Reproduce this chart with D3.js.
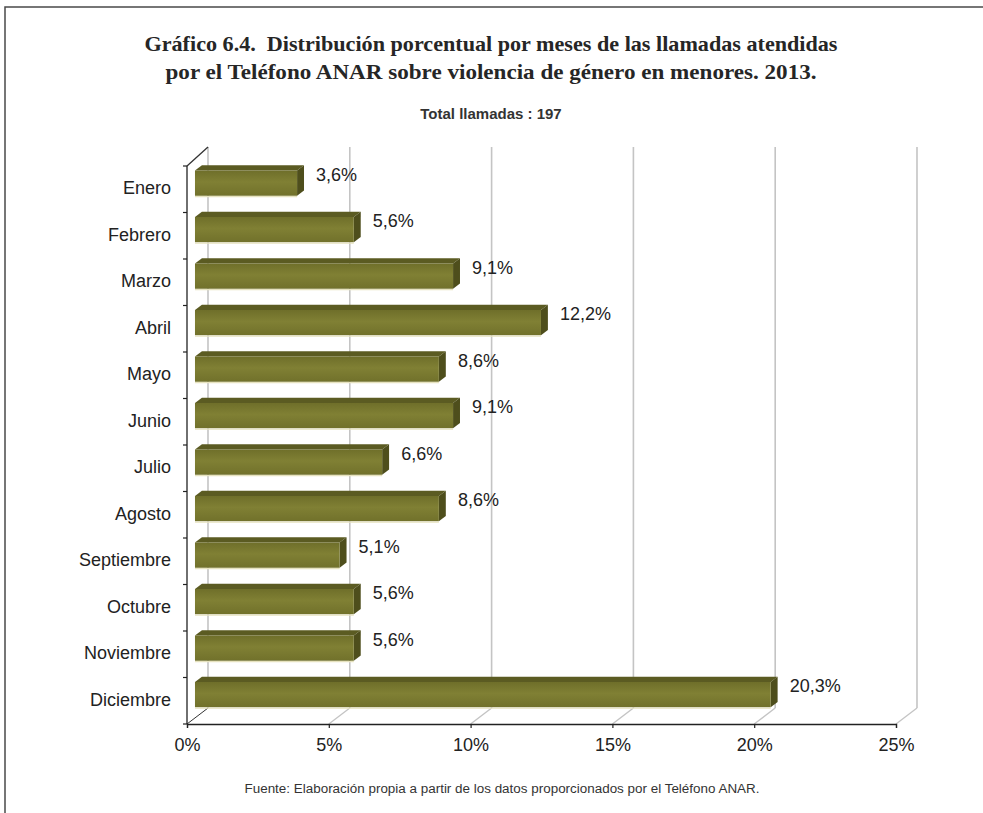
<!DOCTYPE html>
<html>
<head>
<meta charset="utf-8">
<script src="https://cdn.jsdelivr.net/npm/d3@7"></script>
<style>
  html, body { margin: 0; padding: 0; background: #fff; }
  svg { display: block; }
</style>
</head>
<body>
<svg id="chart" width="983" height="813"></svg>
<script>
const months = ["Enero","Febrero","Marzo","Abril","Mayo","Junio","Julio","Agosto","Septiembre","Octubre","Noviembre","Diciembre"];
const percents = [3.6, 5.6, 9.1, 12.2, 8.6, 9.1, 6.6, 8.6, 5.1, 5.6, 5.6, 20.3];
const xTicks = [0, 5, 10, 15, 20, 25];
const titleLines = [
  "Gráfico 6.4.\u00a0\u00a0Distribución porcentual por meses de las llamadas atendidas",
  "por el Teléfono ANAR sobre violencia de género en menores. 2013."
];
const titleWidths = [693, 651];
const subtitle = "Total llamadas : 197";
const source = "Fuente: Elaboración propia a partir de los datos proporcionados por el Teléfono ANAR.";

const svg = d3.select("#chart");
const sans = "'Liberation Sans', Arial, sans-serif";

// frame border
svg.append("path").attr("d", "M5,813 L5,7 L983,7").attr("fill", "none")
  .attr("stroke", "#4a4a4a").attr("stroke-width", 1.5);

// titles
svg.selectAll("text.title").data(titleLines).join("text")
  .attr("class", "title")
  .attr("x", 491).attr("y", (d, i) => 51 + i * 28)
  .attr("text-anchor", "middle")
  .attr("font-family", "'Liberation Serif', 'DejaVu Serif', serif")
  .attr("font-weight", "bold").attr("font-size", 21.5).attr("fill", "#262626")
  .attr("textLength", (d, i) => titleWidths[i]).attr("lengthAdjust", "spacingAndGlyphs")
  .text(d => d);

svg.append("text").attr("x", 491).attr("y", 119).attr("text-anchor", "middle")
  .attr("font-family", sans).attr("font-weight", "bold").attr("font-size", 15)
  .attr("fill", "#333").text(subtitle);

svg.append("text").attr("x", 502).attr("y", 793).attr("text-anchor", "middle")
  .attr("font-family", sans).attr("font-size", 12.5).attr("fill", "#333")
  .attr("textLength", 515).attr("lengthAdjust", "spacingAndGlyphs").text(source);

// 3D geometry
const x = d3.scaleLinear().domain([0, 25]).range([187, 896]);
const y = d3.scaleBand().domain(months).range([166, 724]).paddingInner(0.46).paddingOuter(0.23);
const DX = 21, DY = -16;          // depth vector of the plot
const f0 = 0.38, f1 = 0.71;       // bar front/back depth fraction
const yTop = 166, yBot = 724;
const P = (px, py, f) => [px + f * DX, py + f * DY];

const defs = svg.append("defs");
const grad = defs.append("linearGradient").attr("id", "frontGrad")
  .attr("x1", 0).attr("y1", 0).attr("x2", 0).attr("y2", 1);
grad.append("stop").attr("offset", "0%").attr("stop-color", "#6f6f2a");
grad.append("stop").attr("offset", "45%").attr("stop-color", "#808034");
grad.append("stop").attr("offset", "100%").attr("stop-color", "#71712b");

const g = svg.append("g");

// back wall gridlines
g.selectAll("line.grid").data(xTicks).join("line")
  .attr("x1", d => x(d) + DX).attr("x2", d => x(d) + DX)
  .attr("y1", yTop + DY - 3).attr("y2", yBot + DY)
  .attr("stroke", "#c4c4c4").attr("stroke-width", 1.6);
// floor diagonals
g.selectAll("line.floor").data(xTicks).join("line")
  .attr("x1", d => x(d)).attr("y1", yBot)
  .attr("x2", d => x(d) + DX).attr("y2", yBot + DY)
  .attr("stroke", d => d === 0 ? "#333" : "#c4c4c4").attr("stroke-width", d => d === 0 ? 1 : 1.4);
// left wall top diagonal
g.append("line").attr("x1", x(0)).attr("y1", yTop).attr("x2", x(0) + DX).attr("y2", yTop + DY - 3)
  .attr("stroke", "#333").attr("stroke-width", 1.3);

// bars
const rows = months.map((m, i) => ({ m, v: percents[i] }));
const poly = pts => "M" + pts.map(p => p.join(",")).join("L") + "Z";
g.selectAll("g.bar").data(rows).join("g").attr("class", "bar").each(function(d) {
  const b = d3.select(this);
  const x0 = x(0), x1 = x(d.v), t = y(d.m), h = y.bandwidth();
  const A = P(x0, t, f0), B = P(x1, t, f0), C = P(x1, t + h, f0), D = P(x0, t + h, f0);
  const A2 = P(x0, t, f1), B2 = P(x1, t, f1), C2 = P(x1, t + h, f1);
  b.append("path").attr("d", poly([A, B, B2, A2])).attr("fill", "#5b5b22");
  b.append("path").attr("d", poly([B, B2, C2, C])).attr("fill", "#4e4e1c");
  b.append("path").attr("d", poly([A, B, C, D])).attr("fill", "url(#frontGrad)");
  b.append("line").attr("x1", D[0]).attr("x2", C[0]).attr("y1", D[1] + 0.8).attr("y2", C[1] + 0.8)
    .attr("stroke", "#e6e2bf").attr("stroke-width", 1.2);
});

// value labels
g.selectAll("text.val").data(rows).join("text")
  .attr("class", "val")
  .attr("x", d => x(d.v) + f0 * DX + 19)
  .attr("y", d => y(d.m) + y.bandwidth() / 2 - 15)
  .attr("dy", "0.35em")
  .attr("font-family", sans).attr("font-size", 18).attr("fill", "#222")
  .text(d => d.v.toFixed(1).replace(".", ",") + "%");

// front left axis line with category boundary ticks
g.append("line").attr("x1", x(0)).attr("x2", x(0)).attr("y1", yTop).attr("y2", yBot)
  .attr("stroke", "#222").attr("stroke-width", 1.3);
const step = y.step();
g.selectAll("line.ytick").data(d3.range(months.length + 1)).join("line")
  .attr("x1", x(0) - 4).attr("x2", x(0))
  .attr("y1", i => yTop + i * step).attr("y2", i => yTop + i * step)
  .attr("stroke", "#222").attr("stroke-width", 1.2);

// category labels
const yAxis = g.append("g").attr("transform", `translate(${x(0) - 16},-1)`)
  .call(d3.axisLeft(y).tickSize(0).tickPadding(0));
yAxis.select(".domain").remove();
yAxis.selectAll("text").attr("font-family", sans).attr("font-size", 18).attr("fill", "#222");

// x axis
const xAxis = g.append("g").attr("transform", `translate(0,${yBot})`)
  .call(d3.axisBottom(x).tickValues(xTicks).tickSize(4).tickPadding(10).tickFormat(d => d + "%"));
xAxis.select(".domain").attr("stroke", "#222").attr("stroke-width", 1.3);
xAxis.selectAll("line").attr("stroke", "#222").attr("stroke-width", 1.2);
xAxis.selectAll("text").attr("font-family", sans).attr("font-size", 18).attr("fill", "#222");
</script>
</body>
</html>
